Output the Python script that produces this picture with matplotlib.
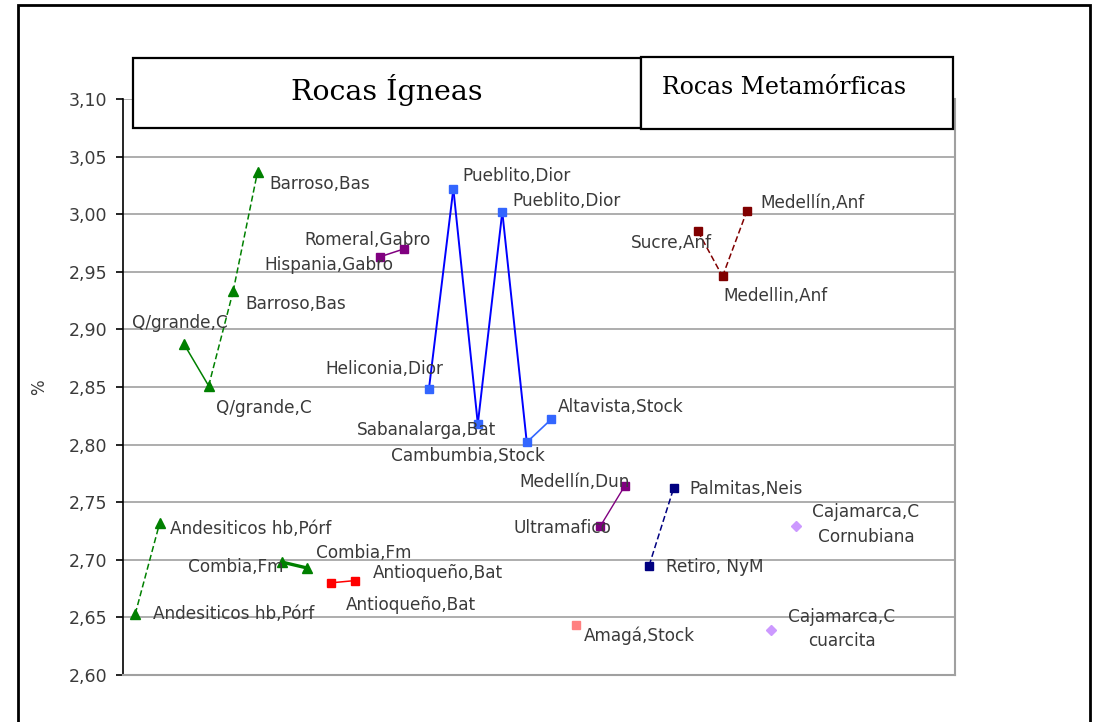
import matplotlib
matplotlib.use("Agg")
import matplotlib.pyplot as plt
from matplotlib.patches import Rectangle
from matplotlib.ticker import FuncFormatter

# ---------------- data ----------------
labels = ["Andesiticos hb,Pórf", "Andesiticos hb,Pórf",
          "Q/grande,C", "Q/grande,C", "Barroso,Bas", "Barroso,Bas",
          "Combia,Fm", "Combia,Fm",
          "Antioqueño,Bat", "Antioqueño,Bat",
          "Hispania,Gabro", "Romeral,Gabro",
          "Heliconia,Dior", "Pueblito,Dior", "Sabanalarga,Bat", "Pueblito,Dior",
          "Cambumbia,Stock", "Altavista,Stock",
          "Amagá,Stock",
          "Ultramafico", "Medellín,Dun",
          "Retiro, NyM", "Palmitas,Neis",
          "Sucre,Anf", "Medellin,Anf", "Medellín,Anf",
          "Cajamarca,C\ncuarcita", "Cajamarca,C\nCornubiana"]
values = [2.653, 2.732,
          2.887, 2.851, 2.933, 3.037,
          2.698, 2.693,
          2.680, 2.682,
          2.963, 2.970,
          2.848, 3.022, 2.818, 3.002, 2.802, 2.822,
          2.643,
          2.729, 2.764,
          2.695, 2.762,
          2.985, 2.946, 3.003,
          2.639, 2.729]
series = [0, 0, 1, 1, 1, 1, 2, 2, 3, 3, 4, 4, 5, 5, 5, 5, 5, 5,
          6, 7, 7, 8, 8, 9, 9, 9, 10, 10]
n_categories = 34
yticks = [2.60, 2.65, 2.70, 2.75, 2.80, 2.85, 2.90, 2.95, 3.00, 3.05, 3.10]

# ---------------- styles ----------------
GREEN = "#008000"
ser_style = {
    0: dict(color=GREEN, marker="^", ms=7),
    1: dict(color=GREEN, marker="^", ms=7),
    2: dict(color=GREEN, marker="^", ms=7),
    3: dict(color="#FF0000", marker="s", ms=6),
    4: dict(color="#800080", marker="s", ms=6),
    5: dict(color="#3366FF", marker="s", ms=6),
    6: dict(color="#FF8080", marker="s", ms=6),
    7: dict(color="#800080", marker="s", ms=6),
    8: dict(color="#000080", marker="s", ms=6),
    9: dict(color="#800000", marker="s", ms=6),
    10: dict(color="#CC99FF", marker="D", ms=5),
}
# segment style keyed by end-point index (Excel style)
seg_style = {
    1: dict(color=GREEN, ls=(0, (4, 2)), lw=1.1),
    3: dict(color=GREEN, ls="-", lw=1.1),
    4: dict(color=GREEN, ls=(0, (4, 2)), lw=1.1),
    5: dict(color=GREEN, ls=(0, (4, 2)), lw=1.1),
    7: dict(color=GREEN, ls="-", lw=2.4),
    9: dict(color="#FF0000", ls="-", lw=1.1),
    11: dict(color="#800080", ls="-", lw=1.1),
    13: dict(color="#0000FF", ls="-", lw=1.4),
    14: dict(color="#0000FF", ls="-", lw=1.4),
    15: dict(color="#0000FF", ls="-", lw=1.4),
    16: dict(color="#0000FF", ls="-", lw=1.4),
    17: dict(color="#3366FF", ls="-", lw=1.2),
    20: dict(color="#800080", ls="-", lw=1.0),
    22: dict(color="#000080", ls=(0, (4, 2)), lw=1.1),
    24: dict(color="#800000", ls=(0, (4, 2)), lw=1.1),
    25: dict(color="#800000", ls=(0, (4, 2)), lw=1.1),
}
# label offsets in pixels and horizontal alignment
lab_pos = [(18, 0, "left"), (10, -6, "left"),
           (-4, 21, "center"), (7, -22, "left"), (12, -13, "left"), (12, -12, "left"),
           (1, -5, "right"), (9, 15, "left"),
           (15, -22, "left"), (17, 8, "left"),
           (13, -8, "right"), (26, 9, "right"),
           (14, 20, "right"), (9, 13, "left"), (18, -6, "right"), (10, 11, "left"),
           (18, -14, "right"), (7, 12, "left"),
           (8, -10, "left"),
           (11, -2, "right"), (5, 4, "right"),
           (17, -1, "left"), (16, -1, "left"),
           (14, -12, "right"), (1, -20, "left"), (13, 8, "left"),
           (70, 1, "center"), (70, 2, "center")]

LABEL_FONT = "DejaVu Sans"
TEXT_GRAY = "#3a3a3a"

W, H = 1103, 722
fig = plt.figure(figsize=(W / 100, H / 100), dpi=100)
fig.patch.set_facecolor("white")
ax = fig.add_axes([123 / W, (H - 675) / H, (955 - 123) / W, (675 - 99) / H])

xs = list(range(len(values)))

# lines
for i in range(1, len(values)):
    if i in seg_style and series[i] == series[i - 1]:
        st = seg_style[i]
        ax.plot([xs[i - 1], xs[i]], [values[i - 1], values[i]], color=st["color"],
                ls=st["ls"], lw=st["lw"], zorder=3, solid_capstyle="butt")
# markers
for i, (x, v) in enumerate(zip(xs, values)):
    st = ser_style[series[i]]
    ax.plot([x], [v], marker=st["marker"], ms=st["ms"], color=st["color"],
            mec=st["color"], ls="none", zorder=4)
# labels
for i, (x, v) in enumerate(zip(xs, values)):
    dx, dy, ha = lab_pos[i]
    ax.annotate(labels[i], (x, v), xytext=(dx, dy), textcoords="offset pixels",
                ha=ha, va="center", fontsize=12.2, color=TEXT_GRAY,
                family=LABEL_FONT, linespacing=1.45, zorder=5)

ax.set_xlim(-0.5, n_categories - 0.5)
ax.set_ylim(2.60, 3.10)
ax.set_yticks(yticks)
ax.yaxis.set_major_formatter(FuncFormatter(lambda v, p: f"{v:.2f}".replace(".", ",")))
ax.set_xticks([])
ax.grid(axis="y", color="#a0a0a0", lw=1.2, zorder=0)
ax.set_axisbelow(True)
ax.spines["top"].set_visible(False)
ax.spines["right"].set_color("#a0a0a0")
ax.spines["right"].set_linewidth(1.5)
ax.spines["bottom"].set_color("#a0a0a0")
ax.spines["bottom"].set_linewidth(1.5)
ax.spines["left"].set_color("black")
ax.spines["left"].set_linewidth(1.2)
ax.tick_params(axis="y", length=5, width=1.2, color="black", labelsize=12.5,
               labelcolor=TEXT_GRAY, pad=6.5)
for t in ax.get_yticklabels():
    t.set_family(LABEL_FONT)
ax.set_ylabel("%", fontsize=12, family=LABEL_FONT, color=TEXT_GRAY)
ax.yaxis.set_label_coords(-(123 - 48) / 832, 0.5)

# title boxes
def fig_box(x0, y0, x1, y1):
    r = Rectangle((x0 / W, 1 - y1 / H), (x1 - x0) / W, (y1 - y0) / H,
                  transform=fig.transFigure, facecolor="white", edgecolor="black",
                  lw=1.6, zorder=10)
    fig.add_artist(r)

fig_box(133, 58, 641, 128)
fig_box(641, 57, 953, 129)
fig.text(387 / W, 1 - 100 / H, "Rocas Ígneas", ha="center", va="baseline",
         fontsize=20.5, family="DejaVu Serif", zorder=11)
fig.text(662 / W, 1 - 94 / H, "Rocas Metamórficas", ha="left", va="baseline",
         fontsize=17, family="DejaVu Serif", zorder=11)

# outer frame
frame = Rectangle((18 / W, -0.1), (1090 - 18) / W, 1 - 5 / H + 0.1,
                  transform=fig.transFigure, facecolor="none", edgecolor="black",
                  lw=2, zorder=12)
fig.add_artist(frame)

fig.savefig("out.png", dpi=100)
